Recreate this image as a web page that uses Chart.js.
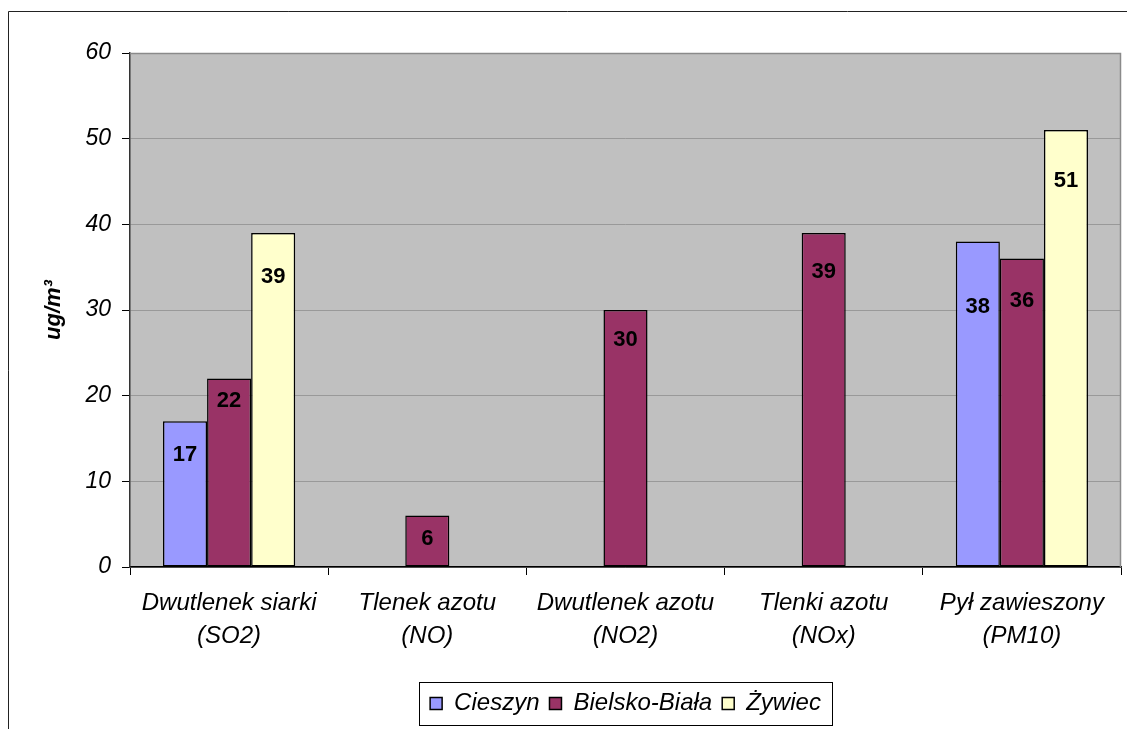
<!DOCTYPE html>
<html>
<head>
<meta charset="utf-8">
<script src="https://cdn.jsdelivr.net/npm/chart.js@4.4.1/dist/chart.umd.min.js"></script>
<style>
  html, body { margin: 0; padding: 0; background: #ffffff; }
  #wrap { width: 1127px; height: 729px; position: relative; }
  canvas { display: block; }
</style>
</head>
<body>
<div id="wrap"><canvas id="c" width="1127" height="729"></canvas></div>
<script>
// ---- data ----
const categories = [
  ["Dwutlenek siarki", "(SO2)"],
  ["Tlenek azotu", "(NO)"],
  ["Dwutlenek azotu", "(NO2)"],
  ["Tlenki azotu", "(NOx)"],
  ["Pył zawieszony", "(PM10)"]
];
const seriesNames = ["Cieszyn", "Bielsko-Biała", "Żywiec"];
const cieszyn = [17, null, null, null, 38];
const bielskoBiala = [22, 6, 30, 39, 36];
const zywiec = [39, null, null, null, 51];
const yMin = 0, yMax = 60, yStep = 10;
const yTitle = "ug/m³";

// ---- styles ----
const FONT = "'Liberation Sans', Arial, sans-serif";
const colors = ["#9999FF", "#993366", "#FFFFCC"];

const frame = {
  id: 'frame',
  beforeDraw(chart) {
    const ctx = chart.ctx, a = chart.chartArea;
    ctx.save();
    ctx.fillStyle = '#FFFFFF';
    ctx.fillRect(0, 0, chart.width, chart.height);
    ctx.fillStyle = '#C0C0C0';
    ctx.fillRect(a.left, a.top, a.right - a.left, a.bottom - a.top);
    ctx.strokeStyle = '#222222';
    ctx.lineWidth = 1;
    ctx.beginPath();
    ctx.moveTo(8.5, chart.height);
    ctx.lineTo(8.5, 11.5);
    ctx.lineTo(chart.width, 11.5);
    ctx.stroke();
    ctx.restore();
  },
  afterDatasetsDraw(chart) {
    const ctx = chart.ctx, a = chart.chartArea;
    ctx.save();
    ctx.strokeStyle = '#8A8A8A';
    ctx.lineWidth = 1.5;
    ctx.beginPath();
    ctx.moveTo(a.left, a.top + 0.5);
    ctx.lineTo(a.right - 0.5, a.top + 0.5);
    ctx.lineTo(a.right - 0.5, a.bottom);
    ctx.stroke();
    ctx.restore();
  }
};

const barLabels = {
  id: 'barLabels',
  afterDatasetsDraw(chart, args, opts) {
    const ctx = chart.ctx;
    ctx.save();
    ctx.font = "bold 22px " + FONT;
    ctx.fillStyle = '#000000';
    ctx.textAlign = 'center';
    ctx.textBaseline = 'middle';
    chart.data.datasets.forEach((ds, di) => {
      const meta = chart.getDatasetMeta(di);
      meta.data.forEach((bar, i) => {
        const v = ds.data[i];
        if (v === null || v === undefined) return;
        const drop = opts.drop[di][i];
        ctx.fillText(String(v), bar.x, bar.y + drop);
      });
    });
    ctx.restore();
  }
};

const legendFrame = {
  id: 'legendFrame',
  afterUpdate(chart, args, opts) {
    const L = chart.legend;
    if (!L || !L.legendHitBoxes || !L.legendHitBoxes.length) return;
    const hbs = L.legendHitBoxes;
    const hb = hbs[0];
    const dy = opts.centerY - (hb.top + hb.height / 2);
    let minL = Infinity, maxR = -Infinity;
    hbs.forEach(h => { minL = Math.min(minL, h.left); maxR = Math.max(maxR, h.left + h.width); });
    const a = chart.chartArea;
    const dx = (a.left + a.right) / 2 - (minL + maxR) / 2;
    L.top += dy; L.bottom += dy;
    L.left += dx; L.right += dx;
    hbs.forEach(h => { h.top += dy; h.left += dx; });
  },
  afterDraw(chart, args, opts) {
    const L = chart.legend;
    if (!L || !L.legendHitBoxes || !L.legendHitBoxes.length) return;
    const hbs = L.legendHitBoxes;
    let minL = Infinity, maxR = -Infinity;
    hbs.forEach(h => { minL = Math.min(minL, h.left); maxR = Math.max(maxR, h.left + h.width); });
    const cy = hbs[0].top + hbs[0].height / 2;
    const ctx = chart.ctx;
    ctx.save();
    ctx.strokeStyle = '#000000';
    ctx.lineWidth = 1;
    ctx.strokeRect(Math.round(minL - opts.padX) + 0.5, Math.round(cy - opts.halfH) + 0.5,
      Math.round(maxR - minL + 2 * opts.padX), Math.round(2 * opts.halfH));
    ctx.restore();
  }
};

const makeDs = (label, data, color) => ({
  label, data,
  backgroundColor: color,
  borderColor: '#000000',
  borderWidth: 1.5,
  borderSkipped: false,
  categoryPercentage: 0.667,
  barPercentage: 1.0
});

new Chart(document.getElementById('c'), {
  type: 'bar',
  data: {
    labels: categories,
    datasets: [
      makeDs(seriesNames[0], cieszyn, colors[0]),
      makeDs(seriesNames[1], bielskoBiala, colors[1]),
      makeDs(seriesNames[2], zywiec, colors[2])
    ]
  },
  options: {
    responsive: false,
    animation: false,
    devicePixelRatio: 1,
    layout: { padding: { left: 37, right: 6, top: 53, bottom: 0 } },
    plugins: {
      tooltip: { enabled: false },
      title: { display: false },
      legend: {
        position: 'bottom',
        labels: {
          color: '#000000',
          font: { family: FONT, size: 24, style: 'italic' },
          boxWidth: 12,
          boxHeight: 12,
          padding: 10
        }
      },
      legendFrame: { centerY: 703.5, padX: 11, halfH: 21.5 },
      barLabels: {
        drop: [
          [34, null, null, null, 65],
          [22, 23, 30, 39, 42],
          [44, null, null, null, 51]
        ]
      }
    },
    scales: {
      x: {
        afterFit(scale) {
          const lh = scale.chart.legend && scale.chart.legend.height ? scale.chart.legend.height : 45;
          scale.height = 729 - 567 - lh;
        },
        grid: {
          offset: true,
          drawOnChartArea: false,
          drawTicks: true,
          tickLength: 8,
          tickColor: '#000000',
          color: '#000000'
        },
        border: { display: true, color: '#000000', width: 1.5 },
        ticks: {
          color: '#000000',
          padding: 12,
          maxRotation: 0,
          autoSkip: false,
          font: { family: FONT, size: 24, style: 'italic', lineHeight: 1.375 }
        }
      },
      y: {
        min: yMin, max: yMax,
        afterFit(scale) { scale.width = 93; },
        grid: {
          color: '#999999',
          lineWidth: 1,
          drawTicks: true,
          tickLength: 8,
          tickColor: '#000000'
        },
        border: { display: true, color: '#333333', width: 1.5 },
        ticks: {
          stepSize: yStep,
          color: '#000000',
          padding: 11,
          font: { family: FONT, size: 23, style: 'italic' }
        },
        title: {
          display: true,
          text: yTitle,
          color: '#000000',
          padding: { top: 4, bottom: 0 },
          font: { family: FONT, size: 22, style: 'italic', weight: 'bold' }
        }
      }
    }
  },
  plugins: [frame, barLabels, legendFrame]
});
</script>
</body>
</html>
